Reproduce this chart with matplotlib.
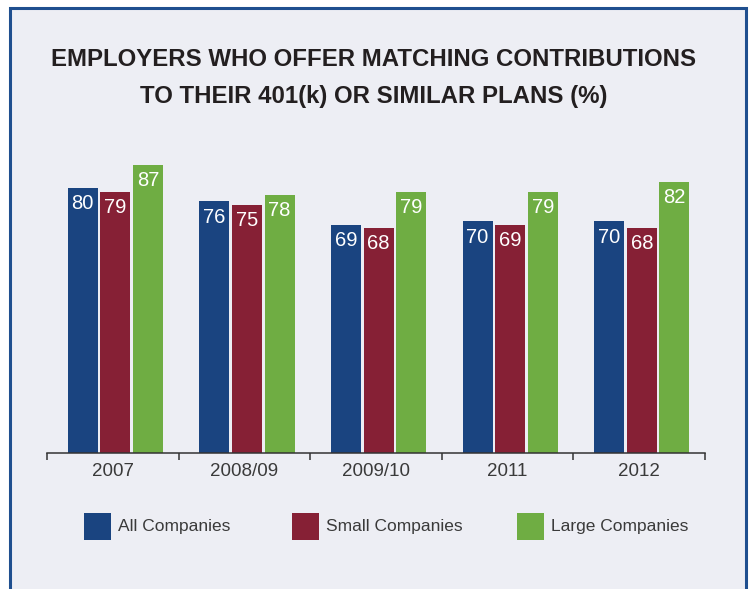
import numpy as np
import matplotlib.pyplot as plt
from matplotlib.patches import Rectangle

# datos
years = ['2007', '2008/09', '2009/10', '2011', '2012']
all_co = [80, 76, 69, 70, 70]
small_co = [79, 75, 68, 69, 68]
large_co = [87, 78, 79, 79, 82]
series_names = ['All Companies', 'Small Companies', 'Large Companies']

bg = '#edeef4'
colores = ['#1a4480', '#862035', '#6fad43']
txt = '#3a3a3a'

plt.rcParams['font.family'] = ['Liberation Sans', 'DejaVu Sans']

W, H = 749, 589
fig = plt.figure(figsize=(W / 100, H / 100), dpi=100, facecolor='white')

# marco
fig.add_artist(Rectangle((10 / W, -0.05), 736 / W, (581 / H) + 0.05,
                         transform=fig.transFigure, facecolor=bg,
                         edgecolor='#1f4f8f', linewidth=2.2, zorder=0))

ax = fig.add_axes([47 / W, (H - 453) / H, 658 / W, 331 / H])
ax.set_facecolor('none')

x = np.arange(len(years))
w = 0.228
sep = 0.248
for i, (vals, c) in enumerate(zip([all_co, small_co, large_co], colores)):
    pos = x + (i - 1) * sep + 0.02
    bars = ax.bar(pos, vals, w, color=c, zorder=2)
    for b, v in zip(bars, vals):
        ax.annotate(str(v), (b.get_x() + b.get_width() / 2, v),
                    xytext=(0, -4.5), textcoords='offset points',
                    ha='center', va='top', color='white', fontsize=14.5)

ax.set_xlim(-0.5, 4.5)
ax.set_ylim(0, 100)
for s in ['top', 'right', 'left']:
    ax.spines[s].set_visible(False)
ax.spines['bottom'].set_color('#333333')
ax.spines['bottom'].set_linewidth(1.1)
ax.set_yticks([])
ax.set_xticks(x)
ax.set_xticklabels(years, fontsize=13.5, color=txt)
ax.tick_params(axis='x', which='major', length=0, pad=7)
ax.set_xticks(np.arange(-0.5, 5, 1), minor=True)
ax.tick_params(axis='x', which='minor', length=5, width=1.1, color='#333333',
               direction='out')

fig.text(374 / W, 1 - 60 / H, 'EMPLOYERS WHO OFFER MATCHING CONTRIBUTIONS',
         ha='center', va='center', fontsize=17.3, fontweight='bold', color='#231f20')
fig.text(374 / W, 1 - 97 / H, 'TO THEIR 401(k) OR SIMILAR PLANS (%)',
         ha='center', va='center', fontsize=17.3, fontweight='bold', color='#231f20')

# leyenda
leg_x = [84, 292, 517]
for lx, c, name in zip(leg_x, colores, series_names):
    fig.add_artist(Rectangle((lx / W, 1 - 540 / H), 27 / W, 27 / H,
                             transform=fig.transFigure, facecolor=c, edgecolor='none'))
    fig.text((lx + 34) / W, 1 - 527 / H, name, ha='left', va='center',
             fontsize=12.5, color=txt)

plt.savefig('out.png', dpi=100, facecolor='white')
